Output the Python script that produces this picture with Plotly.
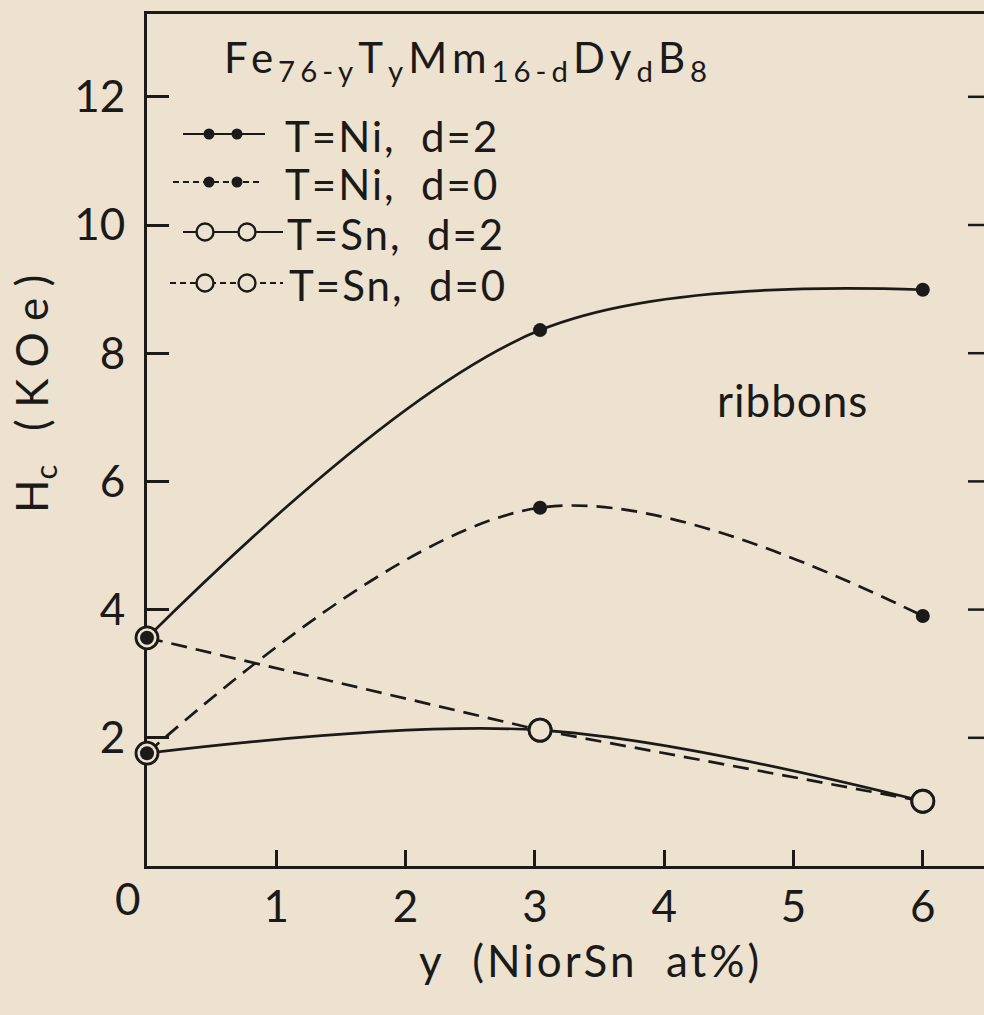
import plotly.graph_objects as go

# Coercivity of Fe(76-y) T(y) Mm(16-d) Dy(d) B(8) ribbons
y_content = [0, 3.04, 6]
hc_ni_d2 = [3.56, 8.36, 8.99]
hc_ni_d0 = [1.76, 5.59, 3.90]
hc_sn_d2 = [1.76, 2.12, 1.01]
hc_sn_d0 = [3.56, 2.12, 1.01]

x_ticks = [0, 1, 2, 3, 4, 5, 6]
y_ticks = [2, 4, 6, 8, 10, 12]

legend_labels = ["T=Ni,  d=2", "T=Ni,  d=0", "T=Sn,  d=2", "T=Sn,  d=0"]

INK = "#1c1a18"
BG = "#ECE2CF"
FONT = "Lato, 'Noto Sans', sans-serif"

# plot-area geometry in pixels
W_FIG, H_FIG = 984, 1015
L, R, T, B = 147, 984, 14, 866
PW, PH = R - L, B - T
X_UNIT, Y_UNIT = 129.3, 64.1


def px(x):
    return (x - L) / PW


def py(y):
    return (B - y) / PH


def spaced(text, gap=3):
    return '<span style="letter-spacing:{}px">{}</span>'.format(gap, text)


fig = go.Figure()

# curves first, so that markers sit on top of every line
curve_specs = [
    (hc_sn_d0, "linear", "16px,9px"),
    (hc_sn_d2, "spline", "solid"),
    (hc_ni_d0, "spline", "16px,9px"),
    (hc_ni_d2, "spline", "solid"),
]
for vals, shape, dash in curve_specs:
    fig.add_trace(go.Scatter(
        x=y_content, y=vals, mode="lines",
        line=dict(color=INK, width=2.7, shape=shape, smoothing=1.0, dash=dash),
        cliponaxis=False, showlegend=False, hoverinfo="skip",
    ))

# open circles for Sn, filled dots for Ni
for vals in (hc_sn_d2, hc_sn_d0):
    fig.add_trace(go.Scatter(
        x=y_content, y=vals, mode="markers",
        marker=dict(size=22, color=BG, line=dict(color=INK, width=2.8)),
        cliponaxis=False, showlegend=False,
    ))
for vals in (hc_ni_d2, hc_ni_d0):
    fig.add_trace(go.Scatter(
        x=y_content, y=vals, mode="markers",
        marker=dict(size=14, color=INK, line=dict(width=0)),
        cliponaxis=False, showlegend=False,
    ))

shapes = []

# short inward ticks along the right-hand side
for v in y_ticks:
    shapes.append(dict(type="line", xref="paper", yref="y",
                       x0=1 - 16 / PW, x1=1, y0=v, y1=v,
                       line=dict(color=INK, width=2.5)))

# hand-drawn key
rows = [
    dict(y=134, x0=183, x1=265, dash="solid", pts=[209, 237], open=False, label_x=283),
    dict(y=182, x0=173, x1=263, dash="6px,4px", pts=[209, 237], open=False, label_x=283),
    dict(y=232, x0=183, x1=283, dash="solid", pts=[205, 247], open=True, label_x=285),
    dict(y=283, x0=170, x1=283, dash="6px,4px", pts=[205, 247], open=True, label_x=287),
]
annotations = []
for row, label in zip(rows, legend_labels):
    shapes.append(dict(type="line", xref="paper", yref="paper",
                       x0=px(row["x0"]), x1=px(row["x1"]),
                       y0=py(row["y"]), y1=py(row["y"]),
                       line=dict(color=INK, width=2.2, dash=row["dash"])))
    for cx in row["pts"]:
        r = 8.5 if row["open"] else 5.5
        shapes.append(dict(type="circle", xref="paper", yref="paper",
                           xsizemode="pixel", ysizemode="pixel",
                           xanchor=px(cx), yanchor=py(row["y"]),
                           x0=-r, x1=r, y0=-r, y1=r,
                           fillcolor=BG if row["open"] else INK,
                           line=dict(color=INK, width=2.4 if row["open"] else 0)))
    annotations.append(dict(text=spaced(label, 2), xref="paper", yref="paper",
                            x=px(row["label_x"]), y=py(row["y"] + 2),
                            xanchor="left", yanchor="middle", showarrow=False,
                            font=dict(size=42, color=INK, family=FONT)))

# composition formula
SUB = '<sub style="font-size:36px;letter-spacing:5px">{}</sub>'
BASE = '<span style="letter-spacing:5px">{}</span>'
formula = (BASE.format("Fe") + SUB.format("76-y") + BASE.format("T") + SUB.format("y")
           + BASE.format("Mm") + SUB.format("16-d") + BASE.format("Dy") + SUB.format("d")
           + BASE.format("B") + SUB.format("8"))
annotations.append(dict(
    text=formula, xref="paper", yref="paper", x=px(222), y=py(60),
    xanchor="left", yanchor="middle", showarrow=False,
    font=dict(size=42, color=INK, family=FONT)))

annotations.append(dict(text=spaced("ribbons", 1), xref="paper", yref="paper",
                        x=px(792), y=py(400), xanchor="center", yanchor="middle",
                        showarrow=False, font=dict(size=44, color=INK, family=FONT)))

# origin label sits just left of the corner
annotations.append(dict(text="0", xref="paper", yref="paper",
                        x=px(128), y=py(898), xanchor="center", yanchor="middle",
                        showarrow=False, font=dict(size=44, color=INK, family=FONT)))

# axis titles
annotations.append(dict(
    text='H<sub style="font-size:40px">c</sub>   ( K O e )',
    xref="paper", yref="paper", x=px(34), y=py(394), xanchor="center", yanchor="middle",
    textangle=-90, showarrow=False, font=dict(size=44, color=INK, family=FONT)))
annotations.append(dict(text=spaced("y  (NiorSn  at%)", 3), xref="paper", yref="paper",
                        x=px(590), y=py(960), xanchor="center", yanchor="middle",
                        showarrow=False, font=dict(size=44, color=INK, family=FONT)))

fig.update_layout(
    width=W_FIG, height=H_FIG,
    margin=dict(l=L, r=W_FIG - R, t=T, b=H_FIG - B, pad=0),
    paper_bgcolor=BG, plot_bgcolor=BG,
    showlegend=False,
    shapes=shapes, annotations=annotations,
    font=dict(family=FONT, color=INK),
)

fig.update_xaxes(
    range=[0, (R - L) / X_UNIT], tickvals=x_ticks,
    ticktext=[""] + [str(v) for v in x_ticks[1:]],
    ticks="inside", ticklen=16, tickwidth=2.5, tickcolor=INK,
    showline=True, linewidth=2.6, linecolor=INK, mirror=True,
    showgrid=False, zeroline=False, layer="below traces",
    tickfont=dict(size=44, color=INK, family=FONT), ticklabelstandoff=0,
)
fig.update_yaxes(
    range=[0, (B - T) / Y_UNIT], tickvals=y_ticks,
    ticktext=[str(v) for v in y_ticks],
    ticks="inside", ticklen=22, tickwidth=2.5, tickcolor=INK,
    showline=True, linewidth=2.6, linecolor=INK,
    showgrid=False, zeroline=False, layer="below traces",
    tickfont=dict(size=44, color=INK, family=FONT), ticklabelstandoff=10,
)

fig.write_html("out.html")
